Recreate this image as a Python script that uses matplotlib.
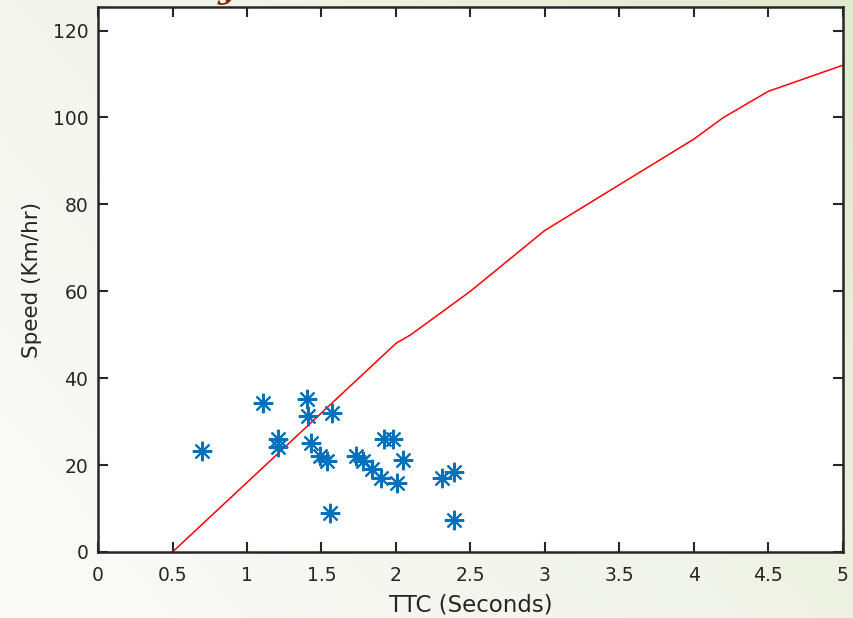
import numpy as np
import matplotlib
matplotlib.use("Agg")
import matplotlib.pyplot as plt
from matplotlib.colors import LinearSegmentedColormap

plt.rcParams['font.family'] = ['DejaVu Sans']

# threshold curve
curve_ttc = [0.5, 1.0, 2.0, 2.1, 2.5, 3.0, 4.0, 4.2, 4.5, 5.0]
curve_speed = [0, 16, 48, 50, 60, 74, 95, 100, 106, 112]

# observed events
ttc = [0.70, 1.11, 1.40, 1.41, 1.57, 1.21, 1.21, 1.43, 1.49, 1.54, 1.56,
       1.73, 1.78, 1.84, 1.90, 1.92, 1.98, 2.01, 2.05, 2.31, 2.39, 2.39]
speed = [23.2, 34.2, 35.3, 31.3, 32.0, 25.9, 24.1, 25.1, 22.1, 21.0, 9.0,
         22.2, 21.0, 19.2, 17.1, 26.1, 26.1, 15.8, 21.1, 17.1, 18.3, 7.3]

xticks = np.arange(0, 5.01, 0.5)
xticklabels = ['0', '0.5', '1', '1.5', '2', '2.5', '3', '3.5', '4', '4.5', '5']
yticks = [0, 20, 40, 60, 80, 100, 120]

fig = plt.figure(figsize=(8.54, 6.18), dpi=100)

# slide background gradient
bg = fig.add_axes([0, 0, 1, 1], zorder=-10)
gx, gy = np.meshgrid(np.linspace(0, 1, 300), np.linspace(0, 1, 300))
g = np.clip(0.75 * gx + 0.45 * gy - 0.15, 0, 1)
cmap = LinearSegmentedColormap.from_list('slide', ['#f9f9f6', '#f1f4e8', '#e2eacd'])
bg.imshow(g, cmap=cmap, aspect='auto', extent=[0, 1, 0, 1], origin='lower')
bg.axis('off')

# cut-off slide title glyph (only its tail shows in the reference)
fig.text(0.266, 1.018, 'y', color='#8b2512', fontsize=24, family='DejaVu Serif',
         fontweight='bold', fontstyle='italic', ha='center', va='center')

ax = fig.add_axes([0.1148, 0.1068, 0.872, 0.8811])
ax.set_facecolor('white')
ax.plot(curve_ttc, curve_speed, color='red', lw=1.1)
ax.plot(ttc, speed, linestyle='none', marker=(8, 2, 0), markersize=14,
        markeredgewidth=1.5, color='#0072BD')

ax.set_xlim(0, 5)
ax.set_ylim(0, 125.3)
ax.set_xticks(xticks)
ax.set_xticklabels(xticklabels)
ax.set_yticks(yticks)
ax.tick_params(direction='in', length=7, width=1.5, top=True, right=True,
               labelsize=13.5, colors='#262626')
ax.tick_params(axis='x', pad=10)
ax.tick_params(axis='y', pad=7)
for s in ax.spines.values():
    s.set_linewidth(1.8)
    s.set_color('#262626')

ax.set_xlabel('TTC (Seconds)', fontsize=16.5, color='#262626', labelpad=6)
ax.set_ylabel('Speed (Km/hr)', fontsize=15.5, color='#262626', labelpad=8)

fig.savefig('out.png', dpi=100)
